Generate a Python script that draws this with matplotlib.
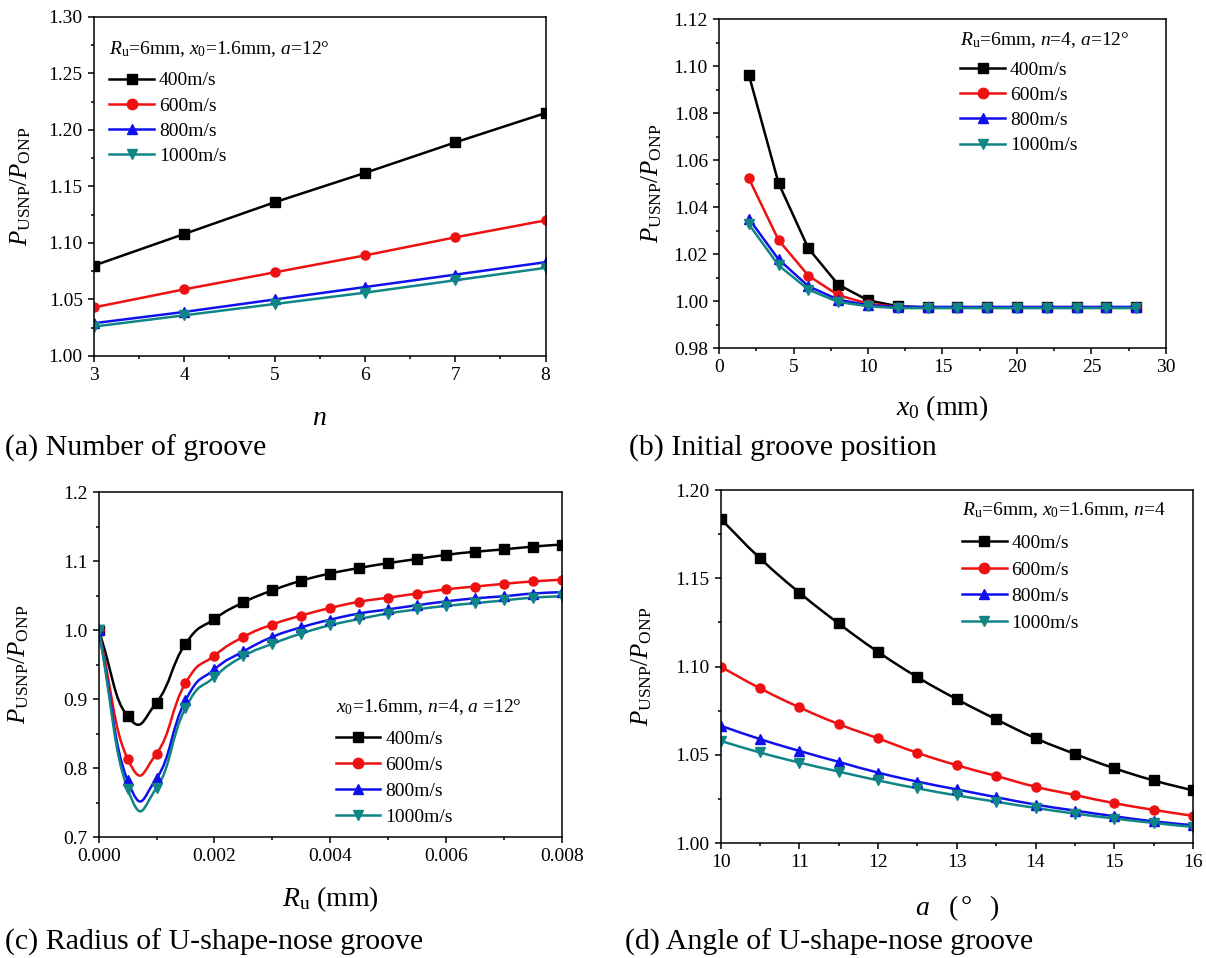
import numpy as np
import matplotlib
matplotlib.use("Agg")
import matplotlib.pyplot as plt
from matplotlib.path import Path
from matplotlib.patches import PathPatch
from matplotlib.lines import Line2D
from matplotlib.ticker import MultipleLocator

plt.rcParams['font.family'] = ['Liberation Serif', 'Noto Sans CJK SC']
plt.rcParams['mathtext.fontset'] = 'custom'
plt.rcParams['mathtext.rm'] = 'Liberation Serif'
plt.rcParams['mathtext.it'] = 'Liberation Serif:italic'

SPEEDS = ["400m/s", "600m/s", "800m/s", "1000m/s"]
COLORS = ["black", "#ee1111", "#1010ee", "#108585"]
MARKERS = ["s", "o", "^", "v"]

# (a) number of grooves
n_vals = [3, 4, 5, 6, 7, 8]
ratio_n = [
    [1.080, 1.108, 1.136, 1.162, 1.189, 1.215],
    [1.043, 1.059, 1.074, 1.089, 1.105, 1.120],
    [1.029, 1.039, 1.050, 1.061, 1.072, 1.083],
    [1.026, 1.036, 1.046, 1.056, 1.067, 1.078],
]

# (b) initial groove position
x0_vals = [2, 4, 6, 8, 10, 12, 14, 16, 18, 20, 22, 24, 26, 28]
ratio_x0 = [
    [1.0963, 1.0501, 1.0224, 1.0070, 1.0003, 0.9978, 0.9973, 0.9973, 0.9973, 0.9973, 0.9973, 0.9973, 0.9973, 0.9973],
    [1.0522, 1.0259, 1.0108, 1.0025, 0.9989, 0.9975, 0.9973, 0.9973, 0.9973, 0.9973, 0.9973, 0.9973, 0.9973, 0.9973],
    [1.0351, 1.0177, 1.0063, 1.0006, 0.9982, 0.9975, 0.9975, 0.9975, 0.9975, 0.9975, 0.9975, 0.9975, 0.9975, 0.9975],
    [1.0327, 1.0152, 1.0049, 0.9996, 0.9978, 0.9970, 0.9970, 0.9970, 0.9970, 0.9970, 0.9970, 0.9970, 0.9970, 0.9970],
]

# (c) radius of U-shape-nose groove
ru_vals = [0.0, 0.0005, 0.001, 0.0015, 0.002, 0.0025, 0.003, 0.0035, 0.004,
           0.0045, 0.005, 0.0055, 0.006, 0.0065, 0.007, 0.0075, 0.008]
ratio_ru = [
    [1.000, 0.875, 0.895, 0.980, 1.016, 1.040, 1.0575, 1.0715, 1.082,
     1.090, 1.097, 1.103, 1.109, 1.1135, 1.117, 1.121, 1.124],
    [1.000, 0.8135, 0.821, 0.923, 0.963, 0.990, 1.008, 1.021, 1.032,
     1.041, 1.047, 1.053, 1.059, 1.063, 1.067, 1.0705, 1.073],
    [1.000, 0.782, 0.785, 0.898, 0.943, 0.969, 0.990, 1.004, 1.015,
     1.024, 1.030, 1.036, 1.0415, 1.046, 1.049, 1.053, 1.055],
    [1.000, 0.770, 0.771, 0.887, 0.932, 0.962, 0.980, 0.995, 1.007,
     1.016, 1.024, 1.030, 1.035, 1.039, 1.043, 1.047, 1.049],
]

# (d) angle of U-shape-nose groove
angle_vals = [10, 10.5, 11, 11.5, 12, 12.5, 13, 13.5, 14, 14.5, 15, 15.5, 16]
ratio_angle = [
    [1.1837, 1.1614, 1.1419, 1.1244, 1.1083, 1.0940, 1.0815, 1.0701, 1.0594, 1.0505, 1.0424, 1.0355, 1.0298],
    [1.0999, 1.0877, 1.0769, 1.0674, 1.0593, 1.0511, 1.0441, 1.0380, 1.0319, 1.0272, 1.0226, 1.0188, 1.0154],
    [1.0665, 1.0589, 1.0522, 1.0460, 1.0399, 1.0348, 1.0304, 1.0260, 1.0218, 1.0184, 1.0152, 1.0123, 1.0101],
    [1.0579, 1.0513, 1.0456, 1.0405, 1.0355, 1.0310, 1.0270, 1.0234, 1.0199, 1.0167, 1.0139, 1.0114, 1.0091],
]


def spline_path(x, y, k=0.75):
    # cardinal spline through the points, as cubic bezier segments
    p = np.column_stack([x, y]).astype(float)
    m = np.zeros_like(p)
    m[1:-1] = k * (p[2:] - p[:-2])
    m[0] = 2 * k * (p[1] - p[0])
    m[-1] = 2 * k * (p[-1] - p[-2])
    verts = [p[0]]
    codes = [Path.MOVETO]
    for i in range(len(p) - 1):
        verts += [p[i] + m[i] / 3, p[i + 1] - m[i + 1] / 3, p[i + 1]]
        codes += [Path.CURVE4] * 3
    return Path(verts, codes)


def draw_series(ax, x, ys, smooth=False):
    for y, c, mk in zip(ys, COLORS, MARKERS):
        if smooth:
            ax.add_patch(PathPatch(spline_path(x, y), fill=False, edgecolor=c,
                                   lw=1.8, transform=ax.transData))
            ax.plot(x, y, ls='none', marker=mk, color=c, ms=6.5)
        else:
            ax.plot(x, y, '-', marker=mk, color=c, ms=6.5, lw=1.8)


def style_axes(ax, ylab_x):
    for s in ax.spines.values():
        s.set_linewidth(1.1)
    ax.tick_params(which='both', direction='out', top=False, right=False,
                   labelsize=14, width=1.1)
    ax.tick_params(which='major', length=4.5)
    ax.tick_params(which='minor', length=2.5)
    ax.set_ylabel(r"$P_{\mathrm{USNP}}/P_{\mathrm{ONP}}$", fontsize=18)
    ax.yaxis.set_label_coords(ylab_x, 0.5)


def add_legend(ax, x, header_y, legend_y, spacing):
    ax.text(x, header_y, HEADERS[ax], transform=ax.transAxes,
            fontsize=14, ha='left', va='top')
    handles = [Line2D([], [], color=c, marker=mk, ms=7.5, lw=1.8)
               for c, mk in zip(COLORS, MARKERS)]
    ax.legend(handles, SPEEDS, loc='upper left',
              bbox_to_anchor=(x, legend_y),
              frameon=False, fontsize=14, handlelength=2.3,
              handletextpad=0.25, labelspacing=spacing, borderpad=0,
              borderaxespad=0)


fig = plt.figure(figsize=(12.06, 9.58), dpi=100)

ax_a = fig.add_axes([0.0779, 0.6284, 0.3745, 0.3539])
ax_b = fig.add_axes([0.5962, 0.6367, 0.3706, 0.3434])
ax_c = fig.add_axes([0.0818, 0.1263, 0.3839, 0.3600])
ax_d = fig.add_axes([0.5975, 0.1200, 0.3917, 0.3685])

HEADERS = {
    ax_a: r"$R_{\mathrm{u}}$=6mm, $x_{0}$=1.6mm, $a$=12°",
    ax_b: r"$R_{\mathrm{u}}$=6mm, $n$=4, $a$=12°",
    ax_c: r"$x_{0}$=1.6mm, $n$=4, $a$ =12°",
    ax_d: r"$R_{\mathrm{u}}$=6mm, $x_{0}$=1.6mm, $n$=4",
}

# (a)
draw_series(ax_a, n_vals, ratio_n)
ax_a.set_xlim(3, 8)
ax_a.set_ylim(1.00, 1.30)
ax_a.xaxis.set_major_locator(MultipleLocator(1))
ax_a.xaxis.set_minor_locator(MultipleLocator(0.5))
ax_a.yaxis.set_major_locator(MultipleLocator(0.05))
ax_a.yaxis.set_minor_locator(MultipleLocator(0.025))
ax_a.yaxis.set_major_formatter('{x:.2f}')
style_axes(ax_a, -0.135)
ax_a.set_xlabel(r"$n$", fontsize=20, labelpad=16)
add_legend(ax_a, 0.034, 0.935, 0.838, 0.39)

# (b)
draw_series(ax_b, x0_vals, ratio_x0)
ax_b.set_xlim(0, 30)
ax_b.set_ylim(0.98, 1.12)
ax_b.xaxis.set_major_locator(MultipleLocator(5))
ax_b.xaxis.set_minor_locator(MultipleLocator(2.5))
ax_b.yaxis.set_major_locator(MultipleLocator(0.02))
ax_b.yaxis.set_minor_locator(MultipleLocator(0.01))
ax_b.yaxis.set_major_formatter('{x:.2f}')
style_axes(ax_b, -0.123)
ax_b.set_xlabel(r"$x_{0}$ (mm)", fontsize=20, labelpad=12)
add_legend(ax_b, 0.54, 0.967, 0.872, 0.39)

# (c)
draw_series(ax_c, ru_vals, ratio_ru, smooth=True)
ax_c.set_xlim(0, 0.008)
ax_c.set_ylim(0.7, 1.2)
ax_c.xaxis.set_major_locator(MultipleLocator(0.002))
ax_c.xaxis.set_minor_locator(MultipleLocator(0.001))
ax_c.yaxis.set_major_locator(MultipleLocator(0.1))
ax_c.yaxis.set_minor_locator(MultipleLocator(0.05))
ax_c.xaxis.set_major_formatter('{x:.3f}')
ax_c.yaxis.set_major_formatter('{x:.1f}')
style_axes(ax_c, -0.146)
ax_c.set_xlabel(r"$R_{\mathrm{u}}$ (mm)", fontsize=20, labelpad=14)
add_legend(ax_c, 0.512, 0.406, 0.31, 0.44)

# (d)
draw_series(ax_d, angle_vals, ratio_angle, smooth=True)
ax_d.set_xlim(10, 16)
ax_d.set_ylim(1.00, 1.20)
ax_d.xaxis.set_major_locator(MultipleLocator(1))
ax_d.xaxis.set_minor_locator(MultipleLocator(0.5))
ax_d.yaxis.set_major_locator(MultipleLocator(0.05))
ax_d.yaxis.set_minor_locator(MultipleLocator(0.025))
ax_d.yaxis.set_major_formatter('{x:.2f}')
style_axes(ax_d, -0.141)
add_legend(ax_d, 0.511, 0.972, 0.875, 0.47)
# x label "a (°  )" with wide gaps between the parts
for xpos, part in [(0.428, r"$a$"), (0.493, "("), (0.52, "°"), (0.578, ")")]:
    ax_d.text(xpos, -0.185, part, transform=ax_d.transAxes, fontsize=20,
              ha='center', va='center')

# panel captions
fig.text(5 / 1206, 1 - 448 / 958, "(a) Number of groove", fontsize=21.5, va='center')
fig.text(629 / 1206, 1 - 448 / 958, "(b) Initial groove position", fontsize=21.5, va='center')
fig.text(5 / 1206, 1 - 942 / 958, "(c) Radius of U-shape-nose groove", fontsize=21.5, va='center')
fig.text(625 / 1206, 1 - 942 / 958, "(d) Angle of U-shape-nose groove", fontsize=21.5, va='center')

fig.savefig("out.png", dpi=100)
